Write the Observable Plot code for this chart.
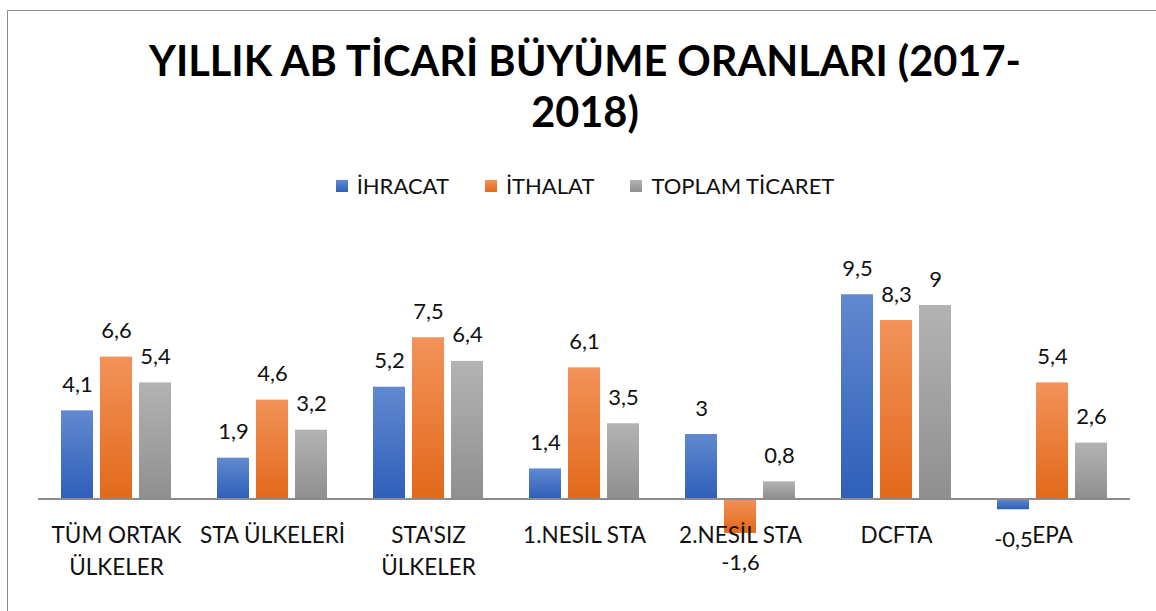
<!DOCTYPE html>
<html><head><meta charset="utf-8">
<script src="https://cdn.jsdelivr.net/npm/d3@7"></script>
<script src="https://cdn.jsdelivr.net/npm/@observablehq/plot@0.6"></script>
<style>
body{margin:0;background:#fff;font-family:Lato,"Open Sans",sans-serif;}
#wrap{position:relative;width:1156px;height:611px;overflow:hidden;}
#frame{position:absolute;left:7px;top:10px;width:1250px;height:700px;border:1.5px solid #8c8c8c;box-sizing:border-box;}
#title{position:absolute;left:7px;top:35px;width:1156px;text-align:center;font-weight:700;font-size:41.5px;line-height:51px;color:#000;}
#legend{position:absolute;top:172px;left:7px;width:1156px;display:flex;justify-content:center;align-items:center;font-size:22px;color:#111;}
#legend .item{display:flex;align-items:center;margin:0 18px;}
#legend .sw{width:12px;height:12px;margin-right:9px;}
#chart{position:absolute;left:0;top:210px;}
</style>
</head><body>
<div id="wrap">
  <div id="frame"></div>
  <div id="title"></div>
  <div id="legend"></div>
  <div id="chart"></div>
</div>
<script>
const titleLines = ["YILLIK AB TİCARİ BÜYÜME ORANLARI (2017-", "2018)"];
const categories = ["TÜM ORTAK ÜLKELER", "STA ÜLKELERİ", "STA'SIZ ÜLKELER", "1.NESİL STA", "2.NESİL STA", "DCFTA", "EPA"];
const categoryLabels = ["TÜM ORTAK\nÜLKELER", "STA ÜLKELERİ", "STA'SIZ\nÜLKELER", "1.NESİL STA", "2.NESİL STA", "DCFTA", "EPA"];
const series = ["İHRACAT", "İTHALAT", "TOPLAM TİCARET"];
const ihracat = [4.1, 1.9, 5.2, 1.4, 3.0, 9.5, -0.5];
const ithalat = [6.6, 4.6, 7.5, 6.1, -1.6, 8.3, 5.4];
const toplam = [5.4, 3.2, 6.4, 3.5, 0.8, 9.0, 2.6];
const gradientStops = [["#6189d0", "#2f5fb9"], ["#f3925a", "#e2691a"], ["#b3b3b3", "#8f8f8f"]];

document.getElementById("title").innerHTML = titleLines.join("<br>");
const legend = document.getElementById("legend");
series.forEach((s, i) => {
  const it = document.createElement("div"); it.className = "item";
  const sw = document.createElement("div"); sw.className = "sw";
  sw.style.background = `linear-gradient(${gradientStops[i][0]}, ${gradientStops[i][1]})`;
  const tx = document.createElement("span"); tx.textContent = s;
  it.appendChild(sw); it.appendChild(tx); legend.appendChild(it);
});

const valuesBySeries = [ihracat, ithalat, toplam];
const data = [];
categories.forEach((c, ci) => series.forEach((s, si) => data.push({category: c, series: s, value: valuesBySeries[si][ci]})));
const fmt = v => String(v).replace(".", ",");
const labelOf = Object.fromEntries(categories.map((c, i) => [c, categoryLabels[i]]));

const plot = Plot.plot({
  width: 1156, height: 401,
  marginLeft: 37, marginRight: 25, marginTop: 73.5, marginBottom: 69.5,
  style: {fontFamily: "Lato, 'Open Sans', sans-serif", background: "transparent"},
  fx: {domain: categories, padding: 0, axis: null},
  x: {domain: series, paddingInner: 0.18, paddingOuter: 0.59, axis: null},
  y: {domain: [-2, 10], axis: null},
  color: {domain: series, range: ["url(#g0)", "url(#g1)", "url(#g2)"]},
  marks: [
    Plot.barY(data, {fx: "category", x: "series", y: "value", fill: "series"}),
    Plot.ruleY([0], {stroke: "#8c8c8c", strokeWidth: 2}),
    Plot.text(data.filter(d => d.value >= 0), {fx: "category", x: "series", y: "value", text: d => fmt(d.value), dy: -26, fontSize: 22, fill: "#111"}),
    Plot.text(data.filter(d => d.value < 0), {fx: "category", x: "series", y: "value", text: d => fmt(d.value), dy: 30, fontSize: 22, fill: "#111"}),
    Plot.axisFx({anchor: "bottom", tickSize: 0, tickPadding: 0, dy: -21, fontSize: 22.5, lineHeight: 1.4, fill: "#111", tickFormat: c => labelOf[c], label: null})
  ]
});
const svg = d3.select(plot);
const defs = svg.insert("defs", ":first-child");
gradientStops.forEach((st, i) => {
  const g = defs.append("linearGradient").attr("id", "g" + i).attr("x1", 0).attr("y1", 0).attr("x2", 0).attr("y2", 1);
  g.append("stop").attr("offset", "0%").attr("stop-color", st[0]);
  g.append("stop").attr("offset", "100%").attr("stop-color", st[1]);
});
document.getElementById("chart").appendChild(plot);
</script>
</body></html>
